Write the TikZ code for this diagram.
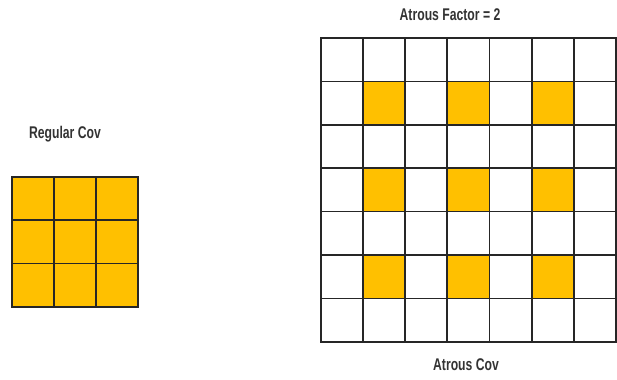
\documentclass[tikz,border=0pt]{standalone}
\usepackage{fontspec}
\setmainfont{Liberation Sans}[FakeStretch=0.72]
\definecolor{amber}{HTML}{FFC000}
\begin{document}
\begin{tikzpicture}[x=1bp,y=-1bp,
  cellbox/.style={draw=black!85,line width=1.7bp,minimum width=42.2bp,minimum height=43.4bp,inner sep=0pt,outer sep=0pt,anchor=north west},
  smallcell/.style={draw=black!85,line width=1.7bp,fill=amber,minimum width=42bp,minimum height=43.3bp,inner sep=0pt,outer sep=0pt,anchor=north west},
  lbl/.style={font=\bfseries\fontsize{17}{19}\selectfont,text=black!80,inner sep=0pt}]
\useasboundingbox (0,0) rectangle (617,379);
% regular conv 3x3
\foreach \i in {0,1,2}{
  \foreach \j in {0,1,2}{
    \node[smallcell] (r\i\j) at ({12+42*\i},{177+43.3*\j}) {};
  }
}
% atrous grid 7x7
\foreach \i in {0,...,6}{
  \foreach \j in {0,...,6}{
    \pgfmathtruncatemacro{\hi}{(mod(\i,2)==1 && mod(\j,2)==1) ? 1 : 0}
    \ifnum\hi=1
      \node[cellbox,fill=amber] (a\i\j) at ({320.7+42.2*\i},{38+43.4*\j}) {};
    \else
      \node[cellbox,fill=white] (a\i\j) at ({320.7+42.2*\i},{38+43.4*\j}) {};
    \fi
  }
}
\node[lbl] (t1) at (65,134) {Regular Cov};
\node[lbl] (t2) at (450,15) {Atrous Factor = 2};
\node[lbl] (t3) at (466,365) {Atrous Cov};
\end{tikzpicture}
\end{document}
